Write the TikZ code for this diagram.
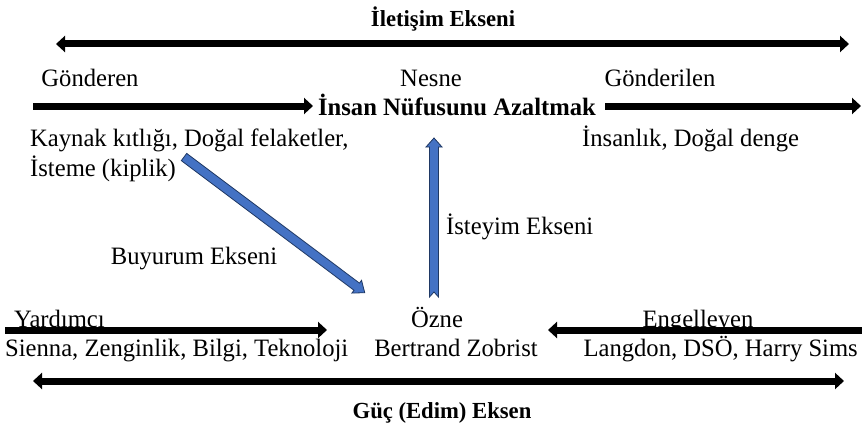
\documentclass[tikz,border=0pt]{standalone}
\usepackage{fontspec}
\setmainfont[FakeStretch=0.985]{Liberation Serif}
\usetikzlibrary{arrows.meta,calc}
\definecolor{axblue}{HTML}{4472C4}
\definecolor{axedge}{HTML}{1F3864}
\begin{document}
\begin{tikzpicture}[x=1pt,y=-1pt,
  txt/.style={font=\fontsize{25}{30}\selectfont, inner sep=0pt, anchor=base},
  btxt/.style={txt, font=\fontsize{25}{30}\selectfont\bfseries},
  ttxt/.style={txt, font=\fontsize{23}{28}\selectfont\bfseries},
  blk/.style={line width=7pt, -{Triangle[length=9pt,width=16pt]}},
  dbl/.style={line width=7pt, {Triangle[length=9pt,width=16pt]}-{Triangle[length=9pt,width=16pt]}},
  bluearr/.style={fill=axblue, draw=axedge, line width=0.8pt, line join=miter}]
\useasboundingbox (0,0) rectangle (862,428);
% top axis
\node[ttxt] (ile) at (443,27) {İletişim Ekseni};
\coordinate (t1) at (56,44); \coordinate (t2) at (849,44);
\draw[dbl] (t1) -- (t2);
% row labels
\node[txt] (gon) at (90,87) {Gönderen};
\node[txt] (nes) at (431,87) {Nesne};
\node[txt] (gil) at (660,87) {Gönderilen};
\node[btxt] (obj) at (457,115) {İnsan Nüfusunu Azaltmak};
\coordinate (g1) at (33,106); \coordinate (g2) at (313,106);
\draw[blk] (g1) -- (g2);
\coordinate (r1) at (605,106); \coordinate (r2) at (861,106);
\draw[blk] (r1) -- (r2);
\node[txt, anchor=base west] (kay) at (30,146) {Kaynak kıtlığı, Doğal felaketler,};
\node[txt, anchor=base west] (ist) at (30,176) {İsteme (kiplik)};
\node[txt, anchor=base west] (ins) at (582,146) {İnsanlık, Doğal denge};
% blue vertical arrow
\coordinate (vb) at (434,297); \coordinate (vt) at (434,138);
\draw[bluearr] ($(vb)+(-4.5,0)$) -- ($(vt)+(-4.5,9)$) -- ($(vt)+(-8,9)$) -- (vt) -- ($(vt)+(8,9)$) -- ($(vt)+(4.5,9)$) -- ($(vb)+(4.5,0)$) -- ($(vb)+(0,-5)$) -- cycle;
\node[txt, anchor=base west] (isy) at (446,234) {İsteyim Ekseni};
% blue diagonal arrow
\coordinate (da) at (184,157); \coordinate (db) at (365,293);
\begin{scope}[shift={(da)}, rotate=-36.9]
\draw[bluearr] (0,-4.5) -- (216,-4.5) -- (216,-8) -- (226,0) -- (216,8) -- (216,4.5) -- (0,4.5) -- cycle;
\end{scope}
\node[txt] (buy) at (194,264) {Buyurum Ekseni};
% bottom row
\node[txt, anchor=base west] (yar) at (14,327) {Yardımcı};
\coordinate (y1) at (5,330); \coordinate (y2) at (327,330);
\draw[blk] (y1) -- (y2);
\node[txt, anchor=base west] (sie) at (5,356) {Sienna, Zenginlik, Bilgi, Teknoloji};
\node[txt] (ozn) at (437,327) {Özne};
\node[txt] (ber) at (456,356) {Bertrand Zobrist};
\node[txt] (eng) at (698,327) {Engelleyen};
\coordinate (e1) at (862,330); \coordinate (e2) at (548,330);
\draw[blk] (e1) -- (e2);
\node[txt, anchor=base east] (lan) at (858,356) {Langdon, DSÖ, Harry Sims};
% bottom axis
\coordinate (b1) at (33,381); \coordinate (b2) at (844,381);
\draw[dbl] (b1) -- (b2);
\node[ttxt] (guc) at (442,418) {Güç (Edim) Eksen};
\end{tikzpicture}
\end{document}
